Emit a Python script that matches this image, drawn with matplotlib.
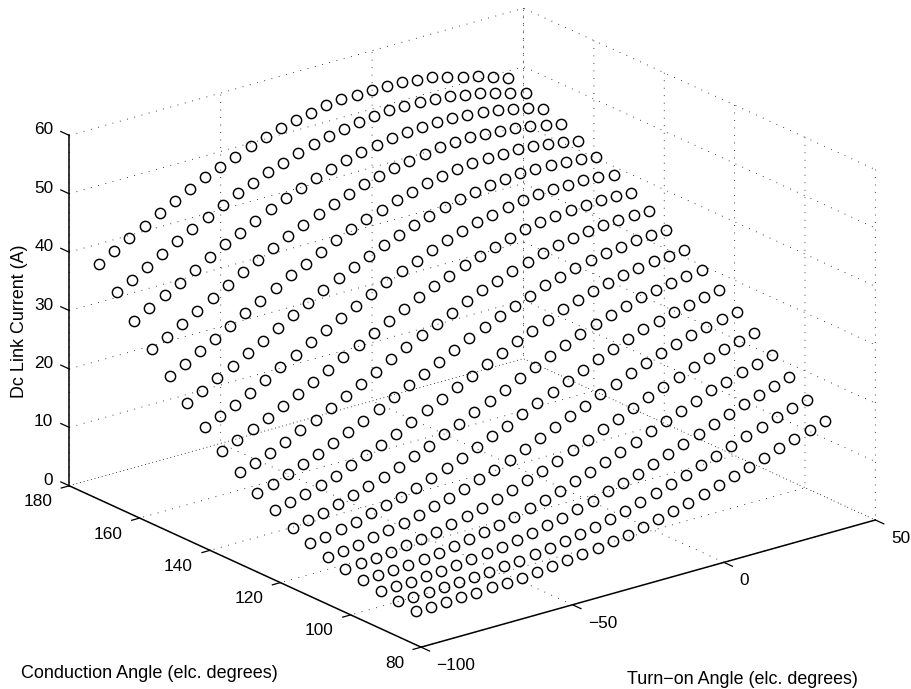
import numpy as np
import matplotlib
matplotlib.use('Agg')
import matplotlib.pyplot as plt
from mpl_toolkits.mplot3d import proj3d

plt.rcParams['font.family'] = ['Liberation Sans', 'DejaVu Sans']

# grid of the measurements (elc. degrees)
turn_on = np.arange(28) * 5.0 - 100
conduction = np.arange(19) * 5.0 + 81.5

# dc link current (A), one list per conduction angle
i_00 = [5.8,5.8,5.9,6.0,6.0,6.2,6.2,6.4,6.6,6.9,7.2,7.5,7.8,8.3,8.7,9.3,9.9,10.5,11.2,12.0,12.8,13.6,14.4,15.3,16.2,17.1,17.9,18.7]
i_01 = [6.1,6.1,6.2,6.3,6.4,6.6,6.7,7.0,7.2,7.6,8.0,8.4,8.9,9.4,10.0,10.7,11.4,12.2,13.0,13.9,14.8,15.7,16.7,17.6,18.5,19.4,20.3,21.0]
i_02 = [6.4,6.6,6.6,6.8,6.9,7.2,7.5,7.8,8.1,8.6,9.1,9.7,10.3,11.0,11.7,12.6,13.4,14.2,15.2,16.1,17.1,18.1,19.0,20.1,21.0,21.9,22.7,23.4]
i_03 = [6.9,7.0,7.2,7.4,7.7,8.0,8.4,8.8,9.4,9.9,10.5,11.2,12.0,12.8,13.7,14.5,15.5,16.5,17.5,18.6,19.7,20.7,21.7,22.7,23.5,24.4,25.1,25.8]
i_04 = [7.5,7.7,7.9,8.2,8.6,9.0,9.5,10.1,10.7,11.4,12.2,13.0,13.9,14.8,15.8,16.9,17.9,19.0,20.0,21.2,22.3,23.3,24.4,25.3,26.1,26.9,27.6,28.2]
i_05 = [8.2,8.5,8.8,9.3,9.8,10.3,10.9,11.7,12.4,13.3,14.2,15.1,16.1,17.2,18.3,19.5,20.6,21.7,22.9,23.9,25.1,26.1,27.1,27.9,28.7,29.4,30.0,30.5]
i_06 = [9.1,9.5,10.0,10.6,11.3,12.0,12.7,13.5,14.4,15.4,16.4,17.5,18.7,19.8,21.0,22.2,23.3,24.6,25.7,26.8,27.9,28.8,29.8,30.5,31.2,31.8,32.4,32.8]
i_07 = [10.3,10.9,11.5,12.2,13.0,13.8,14.7,15.7,16.8,17.9,19.1,20.1,21.4,22.6,23.8,25.1,26.3,27.5,28.6,29.7,30.7,31.5,32.3,33.1,33.7,34.2,34.6,34.9]
i_08 = [12.0,12.6,13.3,14.1,15.0,16.1,17.1,18.1,19.3,20.5,21.8,23.0,24.3,25.6,26.9,28.1,29.3,30.4,31.5,32.6,33.4,34.3,34.9,35.6,36.1,36.5,36.7,37.0]
i_09 = [13.6,14.4,15.3,16.3,17.4,18.4,19.6,20.8,22.1,23.4,24.7,26.0,27.3,28.6,29.9,31.1,32.2,33.3,34.3,35.3,36.1,36.9,37.5,38.0,38.3,38.7,38.9,38.9]
i_10 = [15.7,16.6,17.6,18.7,20.0,21.1,22.4,23.7,25.1,26.4,27.8,29.1,30.5,31.7,32.9,34.1,35.3,36.2,37.2,38.0,38.7,39.4,39.8,40.3,40.6,40.8,40.9,40.8]
i_11 = [18.0,19.1,20.3,21.5,22.7,24.1,25.4,26.8,28.2,29.6,31.0,32.3,33.6,34.9,36.0,37.1,38.2,39.1,39.9,40.6,41.4,41.9,42.3,42.6,42.7,42.8,42.8,42.6]
i_12 = [20.7,21.8,23.1,24.4,25.9,27.3,28.6,30.1,31.5,32.8,34.2,35.5,36.8,38.0,39.0,40.1,41.1,41.9,42.7,43.3,43.8,44.3,44.6,44.7,44.8,44.8,44.6,44.3]
i_13 = [23.5,24.8,26.2,27.6,29.1,30.5,31.9,33.4,34.8,36.2,37.5,38.7,39.9,41.1,42.1,43.1,43.9,44.6,45.3,45.8,46.3,46.5,46.8,46.8,46.8,46.6,46.3,45.9]
i_14 = [26.6,28.0,29.5,30.9,32.4,33.8,35.2,36.7,38.1,39.4,40.7,41.9,43.1,44.1,45.0,45.9,46.6,47.3,47.8,48.3,48.6,48.8,48.8,48.8,48.7,48.3,47.9,47.3]
i_15 = [29.9,31.3,32.8,34.3,35.8,37.2,38.7,40.0,41.4,42.7,43.9,45.0,46.0,47.0,48.0,48.6,49.3,49.8,50.3,50.7,50.8,50.9,50.8,50.6,50.4,49.9,49.4,48.8]
i_16 = [33.3,34.8,36.3,37.7,39.2,40.7,42.1,43.4,44.7,45.9,47.1,48.1,49.1,50.0,50.7,51.3,51.8,52.4,52.7,52.8,52.9,52.9,52.7,52.5,52.0,51.5,50.9,50.1]
i_17 = [36.9,38.3,39.8,41.3,42.7,44.0,45.4,46.7,48.0,49.1,50.2,51.1,52.0,52.8,53.4,53.9,54.4,54.7,55.0,55.0,55.0,54.8,54.5,54.0,53.6,52.9,52.2,51.4]
i_18 = [40.3,41.8,43.3,44.7,46.2,47.5,48.8,50.1,51.1,52.2,53.2,54.1,54.9,55.5,56.1,56.6,56.9,57.0,57.1,57.1,57.0,56.6,56.3,55.7,55.0,54.3,53.4,52.5]

rows = [i_00, i_01, i_02, i_03, i_04, i_05, i_06, i_07, i_08, i_09,
        i_10, i_11, i_12, i_13, i_14, i_15, i_16, i_17, i_18]

x_ticks = [-100, -50, 0, 50]
y_ticks = [80, 100, 120, 140, 160, 180]
z_ticks = [0, 10, 20, 30, 40, 50, 60]

fig = plt.figure(figsize=(9.12, 6.89), dpi=100)
ax = fig.add_axes([7/912, 7.5/689, 1, 1], projection='3d', proj_type='ortho')
ax.view_init(elev=21, azim=-128)
ax.set_box_aspect((576, 571, 375), zoom=1.26)

T, C = np.meshgrid(turn_on, conduction)
ax.plot(T.ravel(), C.ravel(), np.array(rows).ravel(), 'o', ms=7.4, mfc='none',
        mec='black', mew=1.05, clip_on=False)

ax.set_xlim(-100, 50)
ax.set_ylim(80, 180)
ax.set_zlim(0, 60)
ax.set_xticks(x_ticks)
ax.set_yticks(y_ticks)
ax.set_zticks(z_ticks)
ax.set_xticklabels([])
ax.set_yticklabels([])
ax.set_zticklabels([])

for axis in (ax.xaxis, ax.yaxis, ax.zaxis):
    axis.set_pane_color((1, 1, 1, 0))
    axis.pane.set_edgecolor((1, 1, 1, 0))
    axis.line.set_color('black')
    axis.line.set_linewidth(1.1)
    axis._axinfo['grid']['color'] = 'black'
    axis._axinfo['grid']['linewidth'] = 0.6
    axis._axinfo['grid']['linestyle'] = (0, (1, 8))
    axis._axinfo['tick']['inward_factor'] = 0.3
    axis._axinfo['tick']['outward_factor'] = 0.0
    axis._axinfo['tick']['linewidth'] = {True: 0.9, False: 0.5}
    axis._axinfo['tick']['color'] = 'black'
ax.yaxis._axinfo['tick']['inward_factor'] = 0.22

# z ticks run along the conduction direction, beyond 180
ax.zaxis._get_tickdir = lambda pos: 1
ax.zaxis._axinfo['tick']['inward_factor'] = 0.0
ax.zaxis._axinfo['tick']['outward_factor'] = 0.3


def tick_label(x, y, z, s, dx, dy, ha):
    px, py, _ = proj3d.proj_transform(x, y, z, ax.get_proj())
    ax.annotate(s, (px, py), xytext=(dx, dy), textcoords='offset pixels',
                ha=ha, va='center', fontsize=12.4, annotation_clip=False)


for v in x_ticks:
    tick_label(v, 80, 0, str(v).replace('-', '\u2212'), 15.5, -18.5, 'left')
for v in y_ticks:
    tick_label(-100, v, 0, str(v), -17, -16, 'right')
for v in z_ticks:
    tick_label(-100, 180, v, str(v), -16, 5.5, 'right')

fig.text(21/912, 1 - 673/689, 'Conduction Angle (elc. degrees)', fontsize=13, va='center')
fig.text(627/912, 1 - 680/689, 'Turn\u2212on Angle (elc. degrees)', fontsize=12.9, va='center')
fig.text(20/912, 1 - 321/689, 'Dc Link Current (A)', fontsize=12.9, rotation=90, ha='center', va='center')

fig.savefig('out.png', dpi=100)
